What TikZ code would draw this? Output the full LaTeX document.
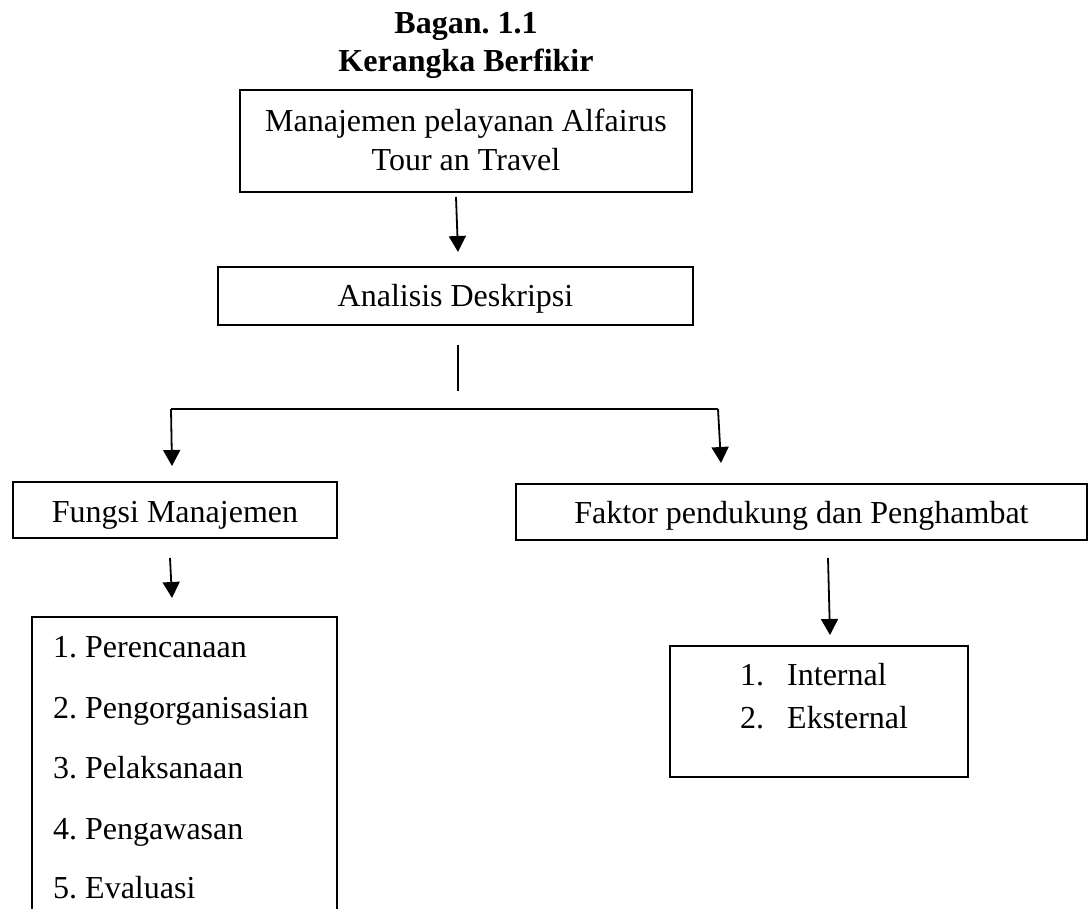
\documentclass[tikz,border=0pt]{standalone}
\usepackage{fontspec}
\setmainfont{Liberation Serif}
\usetikzlibrary{arrows.meta}
\frenchspacing
\begin{document}
\frenchspacing
\begin{tikzpicture}[x=1pt,y=-1pt,
  box/.style={draw, line width=1.8pt, inner sep=0pt},
  txt/.style={font=\fontsize{32}{39}\selectfont, inner sep=0pt},
  ttl/.style={font=\fontsize{32}{38}\selectfont\bfseries, inner sep=0pt},
  conn/.style={line width=1.8pt},
  arr/.style={conn, -{Triangle[width=17pt,length=16pt]}}]
\useasboundingbox (0,0) rectangle (1090,908);
\clip (0,0) rectangle (1090,908);
% title
\node[ttl, anchor=base] (t1) at (466,33) {Bagan. 1.1};
\node[ttl, anchor=base] (t2) at (466,71) {Kerangka Berfikir};
% box 1
\node[box, minimum width=452pt, minimum height=102pt] (b1) at (466,141) {};
\node[txt, anchor=base] (b1a) at (466,131) {Manajemen pelayanan Alfairus};
\node[txt, anchor=base] (b1b) at (466,170) {Tour an Travel};
% box 2
\node[box, minimum width=475pt, minimum height=58pt] (b2) at (455.5,296) {};
\node[txt, anchor=base] (b2t) at (455.5,306) {Analisis Deskripsi};
% fungsi
\node[box, minimum width=324pt, minimum height=56pt] (fm) at (175,510) {};
\node[txt, anchor=base] (fmt) at (175,522) {Fungsi Manajemen};
% faktor
\node[box, minimum width=571pt, minimum height=56pt] (fp) at (801.5,512) {};
\node[txt, anchor=base] (fpt) at (801.5,523) {Faktor pendukung dan Penghambat};
% list box
\node[box, minimum width=305pt, minimum height=303pt] (lb) at (184.5,768.5) {};
\node[txt, anchor=base west] (l1) at (53,657) {1. Perencanaan};
\node[txt, anchor=base west] (l2) at (53,718) {2. Pengorganisasian};
\node[txt, anchor=base west] (l3) at (53,778) {3. Pelaksanaan};
\node[txt, anchor=base west] (l4) at (53,839) {4. Pengawasan};
\node[txt, anchor=base west] (l5) at (53,898) {5. Evaluasi};
% internal box
\node[box, minimum width=298pt, minimum height=131pt] (ib) at (819,711.5) {};
\node[txt, anchor=base west] (i1n) at (740,685) {1.};
\node[txt, anchor=base west] (i1) at (787,685) {Internal};
\node[txt, anchor=base west] (i2n) at (740,728) {2.};
\node[txt, anchor=base west] (i2) at (787,728) {Eksternal};
% connector coordinates
\coordinate (a1s) at (456,197);
\coordinate (a1e) at (458,252);
\coordinate (vs) at (458,345);
\coordinate (ve) at (458,391);
\coordinate (hl) at (171,409);
\coordinate (hr) at (718,409);
\coordinate (al) at (172,466);
\coordinate (ar) at (721,463);
\coordinate (fms) at (170,558);
\coordinate (fme) at (172,598);
\coordinate (fps) at (828,558);
\coordinate (fpe) at (830,635);
% connectors
\draw[arr] (a1s) -- (a1e);
\draw[conn] (vs) -- (ve);
\draw[conn] (hl) -- (hr);
\draw[arr] (hl) -- (al);
\draw[arr] (hr) -- (ar);
\draw[arr] (fms) -- (fme);
\draw[arr] (fps) -- (fpe);
\end{tikzpicture}
\end{document}
